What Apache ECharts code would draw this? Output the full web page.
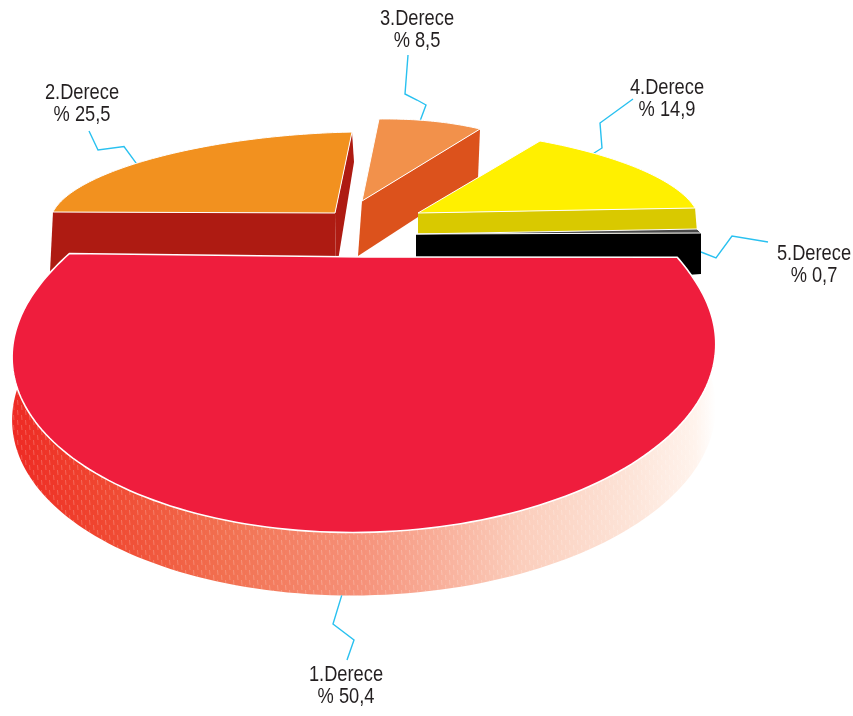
<!DOCTYPE html>
<html><head><meta charset="utf-8">
<style>html,body{margin:0;background:#fff}#c{width:853px;height:716px}</style>
<script src="https://cdn.jsdelivr.net/npm/echarts@6/dist/echarts.min.js"></script>
</head><body><div id="c"></div>
<script>
// ---- data ----
const categories = ['1.Derece','2.Derece','3.Derece','4.Derece','5.Derece'];
const values = [50.4,25.5,8.5,14.9,0.7];
// ---- colours ----
const topColors = ['#ef1d3d','#f2911f','#f2914b','#fff000','#4a4a4a'];
const wallColors = [null,'#ae1b12','#dc521c','#d9c900','#000000'];
const wallStops = [[0,'#ee2a24'],[0.12,'#f0452f'],[0.3,'#f27050'],[0.5,'#f6927a'],[0.72,'#fbcdbb'],[0.88,'#fde4d8'],[0.97,'#fff3ec'],[1,'#ffffff']];
// ---- projection of the large slice's tilted disc ----
const view = {cx:365,cy:257,R:298,S:130,k:0.528,shear:0.016,startAngle:2.2,cornerBoost:0.03,endBoost:0.025,cornerFade:12};
// ---- per-slice layout: apex on screen, two basis vectors of the slice's disc, wall offsets ----
const apexes = [[364,257],[335,213],[362,201],[418,213],[416,234]];
const basisE = [null,[-282,-1],[17,-82],[122,-72],[281,-5]];
const basisF = [null,[8.15,-81.06],[203.1,-2.8],[254.2,46.8],[97.1,90.9]];
const bulgeTrim = [0,0.06,0,0,0];
const wallApex = [[0,63],[1,60],[-4,55],[0,30],[0,60]];
const wallStart = [[0,63],[-3,60],[0,30],[0,30],[0,40]];
const wallEnd = [[0,63],[2,30],[-2,49],[2,25],[0,41]];
const drawOrder = [5,1,2,3,4];
const wallEdges = [[],['start','end'],['end'],['end'],['end']];
// ---- label layout ----
const labelPos = [[346,686],[82,104],[417,30],[667,99],[814,265]];
const leaderFrac = [0.495,0.44,0.40,0.24,1];
const leaderDrop = [63,0,0,0,19];
const leaderPts = [
  [[333,624],[354,640],[347,660]],
  [[124,146.5],[98,150],[89,131]],
  [[426,105],[417,100],[405,94],[408,55]],
  [[602,148],[600,123],[633,99]],
  [[716,258],[732,236],[768,242]]
];

function project(u,v){
  const w=1-view.k*v, X=view.R*u/w, Y=view.S*v/w;
  return [view.cx+X, view.cy+Y-view.shear*X];
}
function invert(p){
  const X=p[0]-view.cx, Y=p[1]-view.cy+view.shear*X;
  const v=Y/(view.S+view.k*Y), w=1-view.k*v;
  return [X*w/view.R, v];
}
const total = values.reduce((a,b)=>a+b,0);
const sweeps = values.map(v=>v/total*360);
function rim(i,phi){
  const ap=apexes[i], t=phi*Math.PI/180;
  if(i===0){
    const o=invert(ap), a=view.startAngle*Math.PI/180+t;
    const r=1+view.cornerBoost*Math.exp(-phi/view.cornerFade)+view.endBoost*Math.exp(-(sweeps[0]-phi)/view.cornerFade);
    return project(o[0]+r*Math.cos(a), o[1]+r*Math.sin(a));
  }
  const E=basisE[i], F=basisF[i];
  const r=1-bulgeTrim[i]*Math.sin(Math.PI*phi/sweeps[i]);
  return [ap[0]+r*(E[0]*Math.cos(t)+F[0]*Math.sin(t)), ap[1]+r*(E[1]*Math.cos(t)+F[1]*Math.sin(t))];
}
function arc(i){
  const pts=[], n=Math.max(4,Math.ceil(sweeps[i]));
  for(let j=0;j<=n;j++) pts.push(rim(i,sweeps[i]*j/n));
  return pts;
}
const add=(p,d)=>[p[0]+d[0],p[1]+d[1]];

const hatch=document.createElement('canvas'); hatch.width=8; hatch.height=10;
{const g=hatch.getContext('2d'); g.strokeStyle='rgba(255,255,255,0.22)'; g.lineWidth=1;
 g.beginPath(); g.moveTo(1.5,0); g.lineTo(2,5); g.moveTo(5.5,5); g.lineTo(6,10); g.stroke();}

function renderItem(params,api){
  const i=params.dataIndex; api.value(0);
  const kids=[], z=drawOrder[i]*10;
  const apex=apexes[i], arcPts=arc(i);
  const s=arcPts[0], e=arcPts[arcPts.length-1];
  if(i===0){
    const bottom=arcPts.map(p=>add(p,wallApex[0])).reverse();
    const wall=arcPts.concat(bottom);
    kids.push({type:'polygon',z2:z,shape:{points:wall},silent:true,
      style:{fill:new echarts.graphic.LinearGradient(0,0,1,0,wallStops.map(q=>({offset:q[0],color:q[1]})))}});
    kids.push({type:'polygon',z2:z+1,shape:{points:wall},silent:true,
      style:{fill:{image:hatch,repeat:'repeat'}}});
  } else {
    wallEdges[i].forEach(edge=>{
      const corner=edge==='start'?s:e, d=edge==='start'?wallStart[i]:wallEnd[i];
      kids.push({type:'polygon',z2:z,silent:true,shape:{points:[apex,corner,add(corner,d),add(apex,wallApex[i])]},
        style:{fill:wallColors[i]}});
    });
  }
  kids.push({type:'polygon',z2:z+2,silent:true,shape:{points:[apex].concat(arcPts)},
    style:{fill:topColors[i],stroke:'#ffffff',lineWidth:i===0?1.6:1,lineJoin:'round'}});
  // leader and label
  const n=arcPts.length-1, anchor=add(arcPts[Math.round(n*leaderFrac[i])],[0,leaderDrop[i]]);
  kids.push({type:'polyline',z2:i===0?100:z-1,silent:true,shape:{points:[anchor].concat(leaderPts[i])},
    style:{stroke:'#29c1f0',lineWidth:1.4,fill:'none'}});
  kids.push({type:'text',z2:101,silent:true,x:labelPos[i][0],y:labelPos[i][1],scaleX:0.83,
    style:{text:categories[i]+'\n% '+String(values[i]).replace('.',','),
      fill:'#231f20',font:'22px "Liberation Sans",sans-serif',
      align:'center',verticalAlign:'middle',lineHeight:22}});
  return {type:'group',children:kids};
}
const chart=echarts.init(document.getElementById('c'),null,{renderer:'canvas'});
chart.setOption({animation:false,backgroundColor:'#fff',
  series:[{type:'custom',coordinateSystem:'none',renderItem,data:values.map(v=>[v]),clip:false}]});
</script></body></html>
